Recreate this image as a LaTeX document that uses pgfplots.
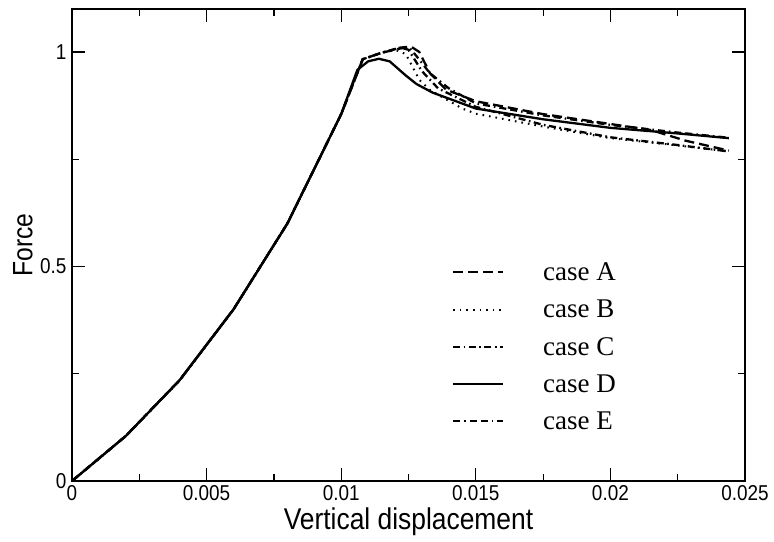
\documentclass[border=0pt]{standalone}
\usepackage{fontspec}
\setmainfont[FakeStretch=0.88]{Liberation Sans}
\newfontfamily\timesfont{Liberation Serif}
\usepackage{pgfplots}
\pgfplotsset{compat=1.18}

\begin{document}
\begin{tikzpicture}
% page = 774 x 541, axis box 673 x 472 placed as in the reference
\useasboundingbox (-72pt,-60pt) rectangle (702pt,481pt);
\begin{axis}[
    at={(0pt,0pt)}, anchor=south west,
    width=673pt, height=472pt, scale only axis,
    xmin=0, xmax=0.025, ymin=0, ymax=1.1,
    scaled x ticks=false,
    xtick={0,0.005,0.01,0.015,0.02,0.025},
    xticklabels={0,0.005,0.01,0.015,0.02,0.025},
    minor xtick={0.0025,0.0075,0.0125,0.0175,0.0225},
    ytick={0,0.5,1}, yticklabels={0,0.5,1},
    minor ytick={0.25,0.75},
    tick align=inside,
    major tick length=13pt, minor tick length=7pt,
    every tick/.style={black, line width=1.2pt},
    axis line style={line width=1.3pt},
    tick label style={font=\fontsize{21.5}{21.5}\selectfont},
    yticklabel style={xshift=-2pt},
    xticklabel style={yshift=-1pt},
    xlabel={\fontsize{30}{30}\selectfont Vertical displacement},
    ylabel={\fontsize{28}{28}\selectfont Force},
    every axis y label/.style={at={(rel axis cs:0,0.5)}, anchor=center,
        rotate=90, yshift=49pt},
    legend style={at={(rel axis cs:0.560,0.4715)}, anchor=north west,
        draw=none, fill=none, row sep=14pt,
        font=\timesfont\fontsize{27}{27}\selectfont},
    legend cell align=left,
    legend image code/.code={
        \path[draw=none] (0pt,0pt) -- (88pt,0pt);
        \draw[#1] (0pt,0pt) -- (50pt,0pt);},
    every axis plot/.append style={black, line width=2.3pt, no markers},
]

\addplot[dash pattern=on 10pt off 5pt] coordinates {
(0,0) (0.002,0.105) (0.004,0.235) (0.006,0.40) (0.008,0.60) (0.010,0.855)
(0.0108,0.983) (0.0115,0.998) (0.0122,1.008) (0.0126,1.012) (0.0129,1.0)
(0.0133,0.95) (0.0139,0.912) (0.015,0.885) (0.0175,0.855) (0.02,0.832)
(0.0215,0.818) (0.0228,0.793) (0.0244,0.77)
};
\addlegendentry{case A}

\addplot[dash pattern=on 1.6pt off 5pt, line width=2pt] coordinates {
(0,0) (0.002,0.105) (0.004,0.235) (0.006,0.40) (0.008,0.60) (0.010,0.855)
(0.0108,0.983) (0.0115,0.998) (0.012,1.005) (0.0124,0.995) (0.0129,0.935)
(0.0133,0.911) (0.0145,0.868) (0.015,0.856) (0.0175,0.826) (0.02,0.799)
(0.0225,0.782) (0.0244,0.768)
};
\addlegendentry{case B}

\addplot[dash pattern=on 7pt off 3.5pt on 1.6pt off 3.5pt] coordinates {
(0,0) (0.002,0.105) (0.004,0.235) (0.006,0.40) (0.008,0.60) (0.010,0.855)
(0.0108,0.983) (0.0115,0.998) (0.0122,1.01) (0.0125,1.005) (0.013,0.955)
(0.0136,0.915) (0.015,0.872) (0.0175,0.83) (0.02,0.801) (0.0225,0.783)
(0.0244,0.768)
};
\addlegendentry{case C}

\addplot coordinates {
(0,0) (0.002,0.105) (0.004,0.235) (0.006,0.40) (0.008,0.60) (0.010,0.855)
(0.0106,0.958) (0.011,0.978) (0.0114,0.984) (0.0118,0.978) (0.0124,0.945)
(0.0128,0.925) (0.0134,0.905) (0.015,0.868) (0.0175,0.843) (0.02,0.823)
(0.0225,0.81) (0.0244,0.799)
};
\addlegendentry{case D}

\addplot[dash pattern=on 7pt off 4pt on 1.6pt off 4pt on 7pt off 4pt on 7pt off 4pt on 1.6pt off 4pt] coordinates {
(0,0) (0.002,0.105) (0.004,0.235) (0.006,0.40) (0.008,0.60) (0.010,0.855)
(0.0108,0.983) (0.0115,0.998) (0.0122,1.01) (0.0125,1.012) (0.0128,0.99)
(0.0133,0.95) (0.014,0.915) (0.015,0.88) (0.0175,0.852) (0.02,0.83)
(0.0225,0.812) (0.0244,0.8)
};
\addlegendentry{case E}

\end{axis}
\end{tikzpicture}
\end{document}
